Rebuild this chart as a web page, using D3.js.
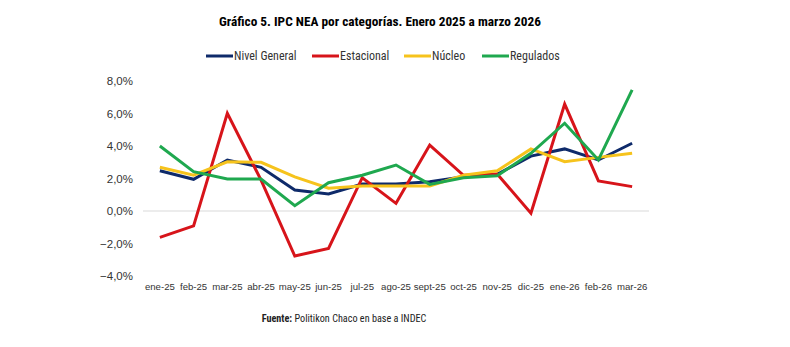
<!DOCTYPE html>
<html>
<head>
<meta charset="utf-8">
<script src="https://cdn.jsdelivr.net/npm/d3@7"></script>
<style>
  body { margin: 0; background: #fff; }
  svg { font-family: "Liberation Sans Narrow", "Roboto Condensed", "Liberation Sans", sans-serif; }
</style>
</head>
<body>
<div id="chart"></div>
<script>
// Datos
const months = ["ene-25", "feb-25", "mar-25", "abr-25", "may-25", "jun-25", "jul-25", "ago-25",
    "sept-25", "oct-25", "nov-25", "dic-25", "ene-26", "feb-26", "mar-26"];
const nivelGeneral = [2.48, 1.95, 3.14, 2.69, 1.29, 1.05, 1.66, 1.66, 1.80, 2.11, 2.26, 3.38, 3.82, 3.14, 4.17];
const estacional = [-1.62, -0.92, 6.01, 1.90, -2.77, -2.30, 2.05, 0.47, 4.06, 2.20, 2.28, -0.14, 6.58, 1.85, 1.50];
const nucleo = [2.69, 2.20, 3.03, 3.00, 2.10, 1.40, 1.54, 1.54, 1.54, 2.20, 2.48, 3.82, 3.03, 3.30, 3.55];
const regulados = [4.00, 2.42, 1.97, 1.97, 0.33, 1.74, 2.20, 2.83, 1.64, 2.05, 2.17, 3.55, 5.40, 3.14, 7.45];
const yTicks = [-4, -2, 0, 2, 4, 6, 8];

const series = [
    { name: "Nivel General", values: nivelGeneral, color: "#0e2a6a" },
    { name: "Estacional", values: estacional, color: "#d7141a" },
    { name: "Núcleo", values: nucleo, color: "#f6c31c" },
    { name: "Regulados", values: regulados, color: "#1fa84f" }
];

const width = 790, height = 347;
const svg = d3.select("#chart").append("svg")
    .attr("width", width)
    .attr("height", height);

const x = d3.scaleBand()
    .domain(months)
    .range([143, 649]);

const y = d3.scaleLinear()
    .domain([-4, 8])
    .range([276, 81]);

// Titulo
svg.append("text")
    .attr("x", 380)
    .attr("y", 26)
    .attr("text-anchor", "middle")
    .style("font-size", "13.3px")
    .style("font-weight", "bold")
    .text("Gráfico 5. IPC NEA por categorías. Enero 2025 a marzo 2026");

// Linea del cero
svg.append("line")
    .attr("x1", 143)
    .attr("x2", 649)
    .attr("y1", y(0))
    .attr("y2", y(0))
    .attr("stroke", "#d9d9d9")
    .attr("stroke-width", 1);

// Eje Y
const yAxis = svg.append("g")
    .attr("transform", "translate(133,0)")
    .call(d3.axisLeft(y).tickValues(yTicks).tickSize(0).tickPadding(0)
        .tickFormat(d => d3.format(".1f")(d).replace(".", ",") + "%"));
yAxis.select(".domain").remove();
yAxis.selectAll("text")
    .style("font-size", "11.5px")
    .attr("fill", "#333");

// Eje X
const xAxis = svg.append("g")
    .attr("transform", "translate(0,283)")
    .call(d3.axisBottom(x).tickSize(0).tickPadding(0));
xAxis.select(".domain").remove();
xAxis.selectAll("text")
    .style("font-size", "9.6px")
    .attr("fill", "#333");

// Lineas
const line = d3.line()
    .x((d, i) => x(months[i]) + x.bandwidth() / 2)
    .y(d => y(d));

series.forEach(s => {
    svg.append("path")
        .datum(s.values)
        .attr("fill", "none")
        .attr("stroke", s.color)
        .attr("stroke-width", 3)
        .attr("stroke-linejoin", "miter")
        .attr("d", line);
});

// Leyenda
const legendX = [206, 312, 404, 482];
series.forEach((s, i) => {
    const g = svg.append("g")
        .attr("transform", `translate(${legendX[i]},56)`);
    g.append("line")
        .attr("x1", 0)
        .attr("x2", 27)
        .attr("stroke", s.color)
        .attr("stroke-width", 3);
    g.append("text")
        .attr("x", 28)
        .attr("y", 4)
        .style("font-size", "12px")
        .attr("fill", "#333")
        .text(s.name);
});

// Fuente
const src = svg.append("text")
    .attr("x", 344)
    .attr("y", 322)
    .attr("text-anchor", "middle")
    .style("font-size", "10.2px")
    .attr("fill", "#222");
src.append("tspan").style("font-weight", "bold").text("Fuente: ");
src.append("tspan").text("Politikon Chaco en base a INDEC");
</script>
</body>
</html>
